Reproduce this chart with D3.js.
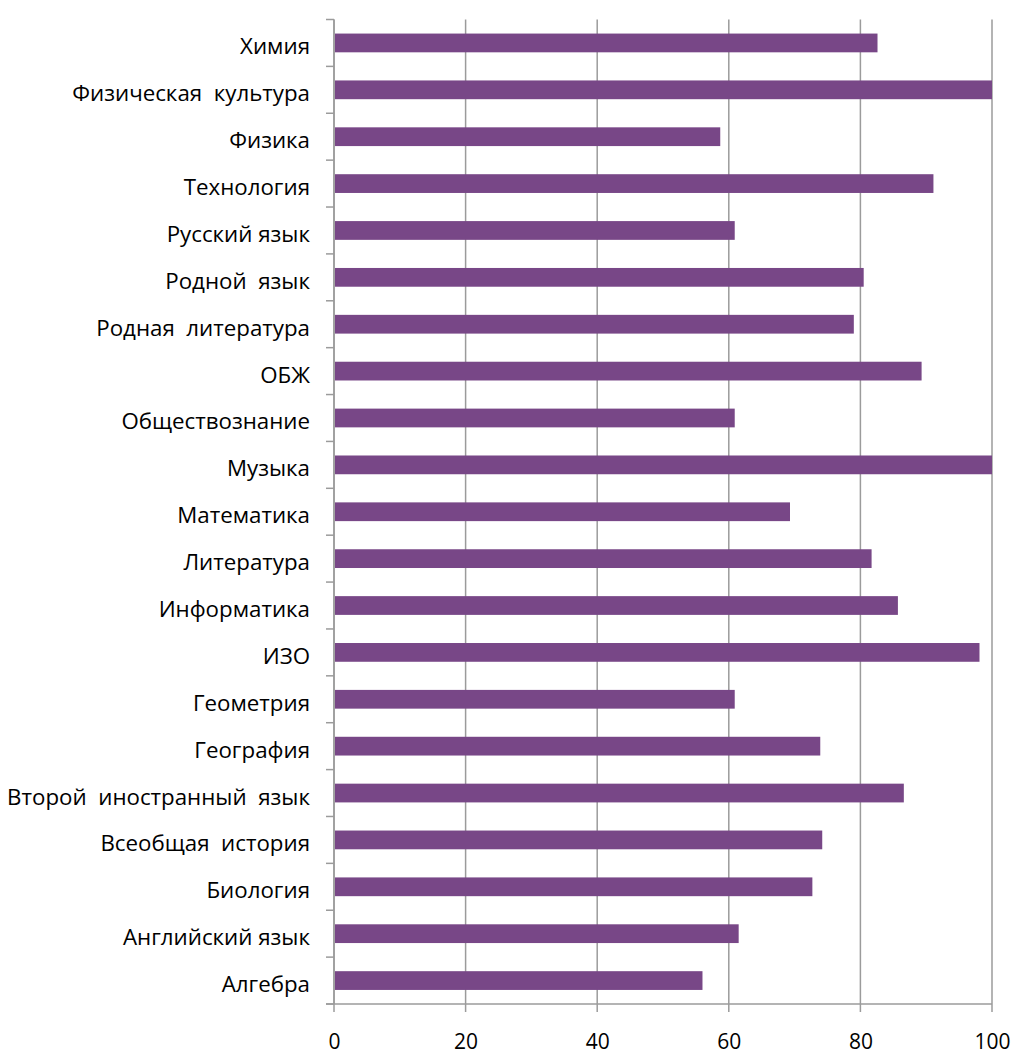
<!DOCTYPE html>
<html>
<head>
<meta charset="utf-8">
<script src="https://cdn.jsdelivr.net/npm/d3@7"></script>
<style>
  body { margin: 0; background: #fff; }
  text { font-family: "Open Sans", "Noto Sans", sans-serif; fill: #000; }
</style>
</head>
<body>
<div id="chart"></div>
<script>
// subjects, top to bottom as shown
var subjects = ['Химия', 'Физическая  культура', 'Физика', 'Технология', 'Русский язык',
  'Родной  язык', 'Родная  литература', 'ОБЖ', 'Обществознание', 'Музыка',
  'Математика', 'Литература', 'Информатика', 'ИЗО', 'Геометрия', 'География',
  'Второй  иностранный  язык', 'Всеобщая  история', 'Биология', 'Английский язык', 'Алгебра']

// percent values, same order
var values = [82.6, 100, 58.7, 91.1, 60.9,
  80.5, 79.0, 89.3, 60.9, 100,
  69.3, 81.7, 85.7, 98.1, 60.9, 73.9,
  86.6, 74.2, 72.7, 61.5, 56.0]

var xTicks = [0, 20, 40, 60, 80, 100]

var data = subjects.map(function(s, i) { return {name: s, value: values[i]}; })

// set the dimensions and margins of the graph
var margin = {top: 19.5, right: 28, bottom: 52, left: 334},
  width = 1020 - margin.left - margin.right,
  height = 1056 - margin.top - margin.bottom;

var svg = d3.select("#chart")
  .append("svg")
    .attr("width", 1020)
    .attr("height", 1056)
  .append("g")
    .attr("transform", "translate(" + margin.left + "," + margin.top + ")");

var x = d3.scaleLinear()
  .domain([0, 100])
  .range([0, width]);

var y = d3.scaleBand()
  .domain(subjects)
  .range([0, height])
  .paddingInner(0.6)
  .paddingOuter(0.3);

// vertical gridlines with ticks going below the axis
svg.append("g")
  .selectAll("line")
  .data(xTicks)
  .enter()
  .append("line")
    .attr("x1", function(d) { return x(d); })
    .attr("x2", function(d) { return x(d); })
    .attr("y1", 0)
    .attr("y2", height + 8)
    .attr("stroke", "#9b9b9b")
    .attr("stroke-width", 1.5);

// bottom axis
var xAxis = svg.append("g")
  .attr("transform", "translate(0," + height + ")")
  .call(d3.axisBottom(x).tickValues(xTicks).tickSize(0).tickPadding(30));
xAxis.select(".domain").remove();
xAxis.selectAll("text")
  .style("font-size", "21px");
svg.append("line")
  .attr("x1", -8).attr("x2", width)
  .attr("y1", height).attr("y2", height)
  .attr("stroke", "#9b9b9b")
  .attr("stroke-width", 1.5);

// left axis line and ticks at category boundaries
var bounds = d3.range(subjects.length + 1);
svg.append("line")
  .attr("x1", 0).attr("x2", 0)
  .attr("y1", 0).attr("y2", height)
  .attr("stroke", "#9b9b9b")
  .attr("stroke-width", 1.5);
svg.append("g")
  .selectAll("line")
  .data(bounds)
  .enter()
  .append("line")
    .attr("x1", -8).attr("x2", 0)
    .attr("y1", function(d) { return d * height / subjects.length; })
    .attr("y2", function(d) { return d * height / subjects.length; })
    .attr("stroke", "#9b9b9b")
    .attr("stroke-width", 1.5);

// labels
svg.append("g")
  .selectAll("text")
  .data(data)
  .enter()
  .append("text")
    .attr("x", -24)
    .attr("y", function(d) { return y(d.name) + y.bandwidth() / 2 + 11.5; })
    .attr("text-anchor", "end")
    .style("font-size", "22.3px")
    .style("white-space", "pre")
    .text(function(d) { return d.name; });

// bars
svg.selectAll("rect")
  .data(data)
  .enter()
  .append("rect")
    .attr("x", x(0) + 1)
    .attr("y", function(d) { return y(d.name); })
    .attr("width", function(d) { return x(d.value) - 1; })
    .attr("height", y.bandwidth())
    .attr("fill", "#784787");
</script>
</body>
</html>
